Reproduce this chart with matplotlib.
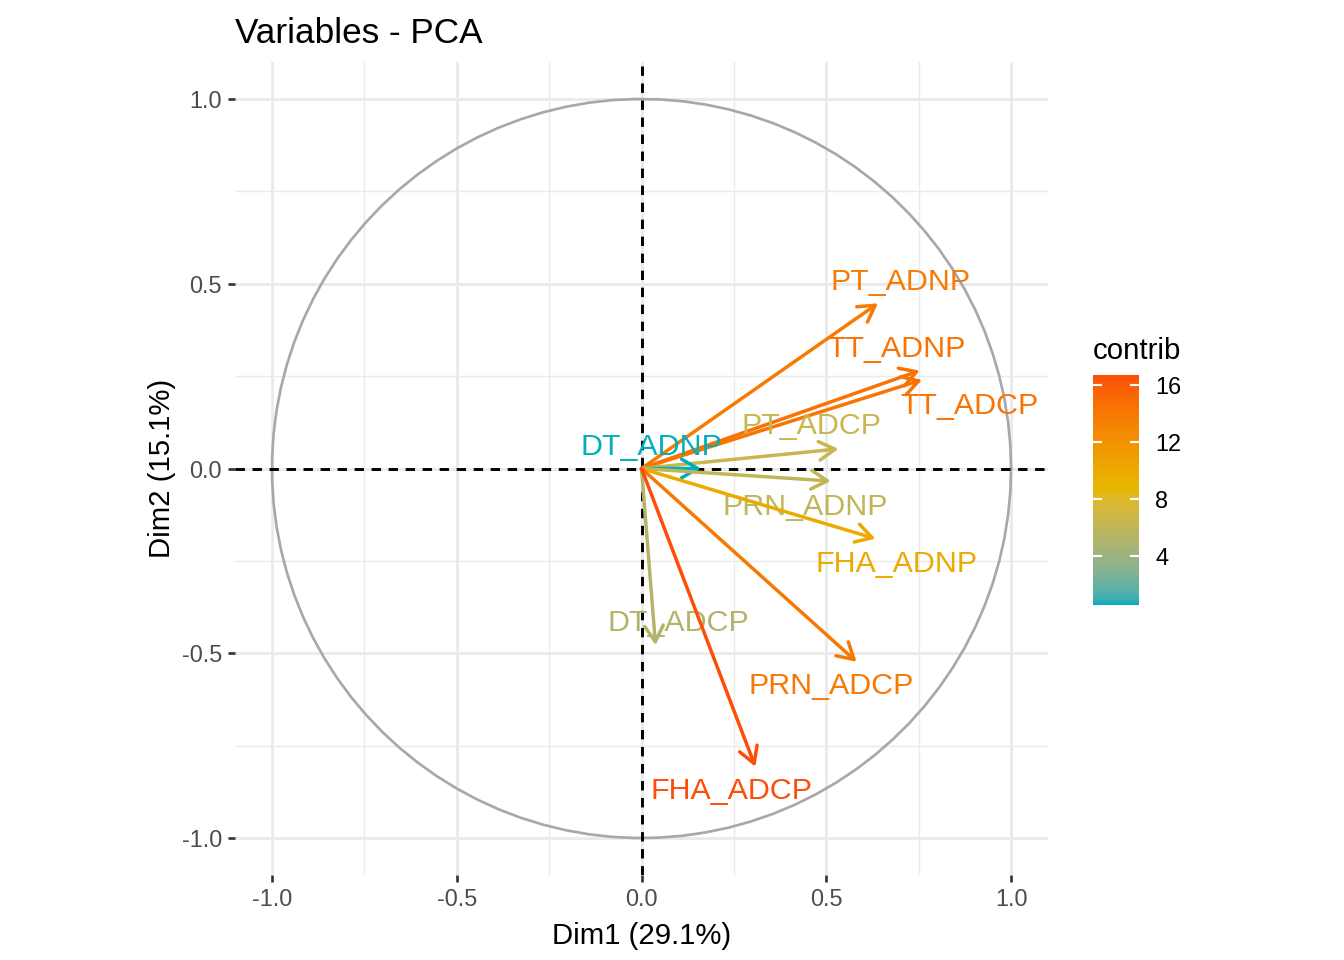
import numpy as np
import matplotlib
matplotlib.use("Agg")
import matplotlib.pyplot as plt
from matplotlib.colors import ListedColormap, Normalize, to_rgb
from matplotlib.cm import ScalarMappable

plt.rcParams["font.family"] = ["Liberation Sans", "DejaVu Sans"]

variables = ["PT_ADNP", "TT_ADNP", "TT_ADCP", "PT_ADCP", "DT_ADNP",
             "PRN_ADNP", "FHA_ADNP", "DT_ADCP", "PRN_ADCP", "FHA_ADCP"]
dim1 = [0.640, 0.753, 0.759, 0.533, 0.161, 0.512, 0.633, 0.038, 0.582, 0.308]
dim2 = [0.447, 0.265, 0.240, 0.053, 0.000, -0.034, -0.190, -0.478, -0.523, -0.807]
contrib = [13.8, 14.4, 14.3, 6.5, 0.55, 6.0, 9.9, 5.2, 13.9, 16.7]
# label positions (repelled a bit off the arrow tips)
label_x = [0.702, 0.689, 0.888, 0.459, 0.027, 0.443, 0.691, 0.100, 0.513, 0.243]
label_y = [0.505, 0.324, 0.170, 0.114, 0.059, -0.103, -0.259, -0.419, -0.589, -0.873]

gradient_cols = ["#00AFBB", "#E7B800", "#FC4E07"]

# ggplot interpolates gradients in Lab space
WHITE = np.array([0.95047, 1.0, 1.08883])
M = np.array([[0.4124564, 0.3575761, 0.1804375],
              [0.2126729, 0.7151522, 0.0721750],
              [0.0193339, 0.1191920, 0.9503041]])
d = 6 / 29


def to_lab(c):
    rgb = np.array(to_rgb(c))
    lin = np.where(rgb <= 0.04045, rgb / 12.92, ((rgb + 0.055) / 1.055) ** 2.4)
    t = M @ lin / WHITE
    f = np.where(t > d ** 3, np.cbrt(t), t / (3 * d ** 2) + 4 / 29)
    return np.array([116 * f[1] - 16, 500 * (f[0] - f[1]), 200 * (f[1] - f[2])])


def from_lab(lab):
    fy = (lab[0] + 16) / 116
    f = np.array([fy + lab[1] / 500, fy, fy - lab[2] / 200])
    t = np.where(f > d, f ** 3, 3 * d ** 2 * (f - 4 / 29)) * WHITE
    lin = np.linalg.solve(M, t)
    lin = np.clip(lin, 0, 1)
    rgb = np.where(lin <= 0.0031308, 12.92 * lin, 1.055 * lin ** (1 / 2.4) - 0.055)
    return np.clip(rgb, 0, 1)


labs = [to_lab(c) for c in gradient_cols]
samples = []
for s in np.linspace(0, 1, 256):
    seg = min(int(s * 2), 1)
    w = s * 2 - seg
    samples.append(from_lab(labs[seg] * (1 - w) + labs[seg + 1] * w))
cmap = ListedColormap(samples)
norm = Normalize(vmin=min(contrib), vmax=max(contrib))

fig = plt.figure(figsize=(7, 5), dpi=192)
ax = fig.add_axes([235 / 1344, 1 - 875 / 960, 813 / 1344, 813 / 960])

ax.set_xlim(-1.1, 1.1)
ax.set_ylim(-1.1, 1.1)
ax.set_aspect("equal")
for sp in ax.spines.values():
    sp.set_visible(False)

ticks = [-1.0, -0.5, 0.0, 0.5, 1.0]
ax.set_xticks(ticks)
ax.set_yticks(ticks)
ax.set_xticklabels([f"{t:.1f}" for t in ticks])
ax.set_yticklabels([f"{t:.1f}" for t in ticks])
ax.set_xticks([-0.75, -0.25, 0.25, 0.75], minor=True)
ax.set_yticks([-0.75, -0.25, 0.25, 0.75], minor=True)
ax.tick_params(which="major", length=2.75, width=1.0, color="#333333",
               labelsize=8.8, labelcolor="#4D4D4D", pad=2.2)
ax.tick_params(which="minor", length=0)
ax.grid(True, which="major", color="#EBEBEB", lw=1.1)
ax.grid(True, which="minor", color="#EBEBEB", lw=0.55)
ax.set_axisbelow(True)

theta = np.linspace(0, 2 * np.pi, 100)
ax.plot(np.cos(theta), np.sin(theta), color="#A8A8A8", lw=1.0)

ax.axhline(0, color="black", lw=1.1, ls=(0, (3.2, 2.6)))
ax.axvline(0, color="black", lw=1.1, ls=(0, (3.2, 2.6)))

for name, x, y, c, lx, ly in zip(variables, dim1, dim2, contrib, label_x, label_y):
    col = cmap(norm(c))
    ax.annotate("", xy=(x, y), xytext=(0, 0),
                arrowprops=dict(arrowstyle="->,head_length=0.6,head_width=0.35",
                                color=col, lw=1.3, shrinkA=0, shrinkB=0,
                                mutation_scale=10))
    ax.text(lx, ly, name, color=col, fontsize=11.4, ha="center", va="center")

ax.set_xlabel("Dim1 (29.1%)", fontsize=11, labelpad=4)
ax.set_ylabel("Dim2 (15.1%)", fontsize=11, labelpad=2)
ax.set_title("Variables - PCA", loc="left", fontsize=13.2, pad=7)

cax = fig.add_axes([1093 / 1344, 1 - 605 / 960, 46 / 1344, 230 / 960])
cb = fig.colorbar(ScalarMappable(norm=norm, cmap=cmap), cax=cax)
cb.outline.set_visible(False)
cb.set_ticks([4, 8, 12, 16])
cax.tick_params(axis="y", direction="in", length=3.4, width=0.8, color="white",
                left=True, right=True, labelsize=8.8, pad=6)
cax.set_title("contrib", fontsize=11, loc="left", pad=6)

fig.savefig("out.png", dpi=192)
